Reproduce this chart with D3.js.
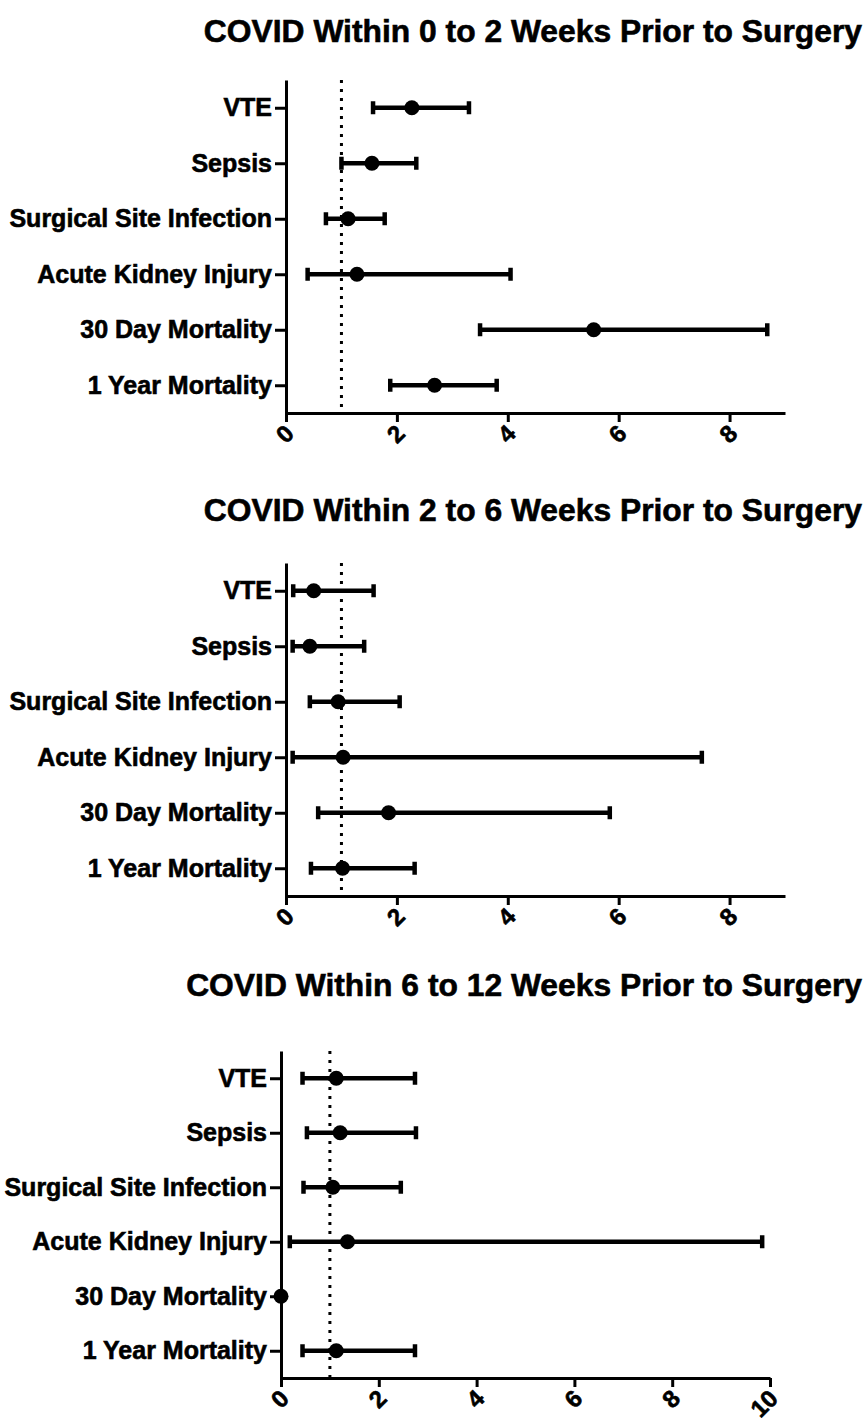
<!DOCTYPE html>
<html>
<head>
<meta charset="utf-8">
<script src="https://cdn.jsdelivr.net/npm/d3@7"></script>
<style>
  body { margin: 0; background: #fff; }
  svg { display: block; font-family: "Liberation Sans", Arial, sans-serif; font-weight: bold; }
  svg text { fill: #000; stroke: #000; stroke-width: 0.6; }
  .axis path, .axis line { stroke: #000; stroke-width: 3; }
</style>
</head>
<body>
<svg id="chart" width="867" height="1421"></svg>
<script>
// outcomes, top to bottom
const outcomes = ["VTE", "Sepsis", "Surgical Site Infection", "Acute Kidney Injury", "30 Day Mortality", "1 Year Mortality"];

const titles = [
  "COVID Within 0 to 2 Weeks Prior to Surgery",
  "COVID Within 2 to 6 Weeks Prior to Surgery",
  "COVID Within 6 to 12 Weeks Prior to Surgery"
];

// odds ratio + 95% CI per window
const est0to2 = [2.27, 1.55, 1.12, 1.28, 5.55, 2.68];
const lo0to2  = [1.57, 1.00, 0.72, 0.39, 3.50, 1.88];
const hi0to2  = [3.30, 2.35, 1.78, 4.05, 8.68, 3.80];

const est2to6 = [0.50, 0.43, 0.94, 1.03, 1.85, 1.02];
const lo2to6  = [0.13, 0.12, 0.43, 0.12, 0.58, 0.45];
const hi2to6  = [1.58, 1.41, 2.05, 7.50, 5.84, 2.32];

const est6to12 = [1.13, 1.21, 1.06, 1.36, 0, 1.13];
const lo6to12  = [0.44, 0.53, 0.46, 0.18, null, 0.44];
const hi6to12  = [2.74, 2.76, 2.45, 9.84, null, 2.74];

const xMax = [9, 9, 10];
const xTicks = [[0, 2, 4, 6, 8], [0, 2, 4, 6, 8], [0, 2, 4, 6, 8, 10]];
const refValue = 1;

// panel frames in page pixels
const panels = [
  {left: 286, right: 785, top: 80, bottom: 413, titleY: 42},
  {left: 286, right: 785, top: 563, bottom: 896, titleY: 521},
  {left: 281, right: 770, top: 1051, bottom: 1378, titleY: 996}
];

const series = [
  [est0to2, lo0to2, hi0to2],
  [est2to6, lo2to6, hi2to6],
  [est6to12, lo6to12, hi6to12]
];

const svg = d3.select("#chart");

panels.forEach((p, k) => {
  const [est, lo, hi] = series[k];
  const g = svg.append("g");

  g.append("text")
    .attr("x", 862)
    .attr("y", p.titleY)
    .attr("text-anchor", "end")
    .style("font-size", "31.8px")
    .text(titles[k]);

  const x = d3.scaleLinear([0, xMax[k]], [p.left, p.right]);
  const y = d3.scalePoint(outcomes, [p.top, p.bottom]).padding(0.5);

  // y axis
  g.append("g")
    .attr("class", "axis")
    .attr("transform", `translate(${p.left},0)`)
    .call(d3.axisLeft(y).tickSize(11).tickSizeOuter(0).tickPadding(3))
    .call(a => a.selectAll("text").style("font-size", "25px"));

  // x axis, labels rotated
  g.append("g")
    .attr("class", "axis")
    .attr("transform", `translate(0,${p.bottom})`)
    .call(d3.axisBottom(x).tickValues(xTicks[k]).tickSize(9).tickSizeOuter(0))
    .call(a => a.selectAll("text")
      .style("font-size", "24px")
      .attr("text-anchor", "end")
      .attr("y", 0)
      .attr("dy", "0.35em")
      .attr("transform", "translate(3,16) rotate(-45)"));

  // reference line at OR = 1
  g.append("line")
    .attr("x1", x(refValue)).attr("x2", x(refValue))
    .attr("y1", p.top).attr("y2", p.bottom)
    .attr("stroke", "#000")
    .attr("stroke-width", 3)
    .attr("stroke-dasharray", "3 6");

  const rows = outcomes.map((o, i) => ({o, e: est[i], l: lo[i], h: hi[i]}));
  const withCI = rows.filter(d => d.l != null);

  g.selectAll(".ci")
    .data(withCI)
    .join("line")
    .attr("x1", d => x(d.l)).attr("x2", d => x(d.h))
    .attr("y1", d => y(d.o)).attr("y2", d => y(d.o))
    .attr("stroke", "#000").attr("stroke-width", 4.5);

  ["l", "h"].forEach(end => {
    g.selectAll(".cap-" + end)
      .data(withCI)
      .join("line")
      .attr("x1", d => x(d[end])).attr("x2", d => x(d[end]))
      .attr("y1", d => y(d.o) - 6.5).attr("y2", d => y(d.o) + 6.5)
      .attr("stroke", "#000").attr("stroke-width", 4.5);
  });

  g.selectAll(".pt")
    .data(rows)
    .join("circle")
    .attr("cx", d => x(d.e))
    .attr("cy", d => y(d.o))
    .attr("r", 7.5)
    .attr("fill", "#000");
});
</script>
</body>
</html>
